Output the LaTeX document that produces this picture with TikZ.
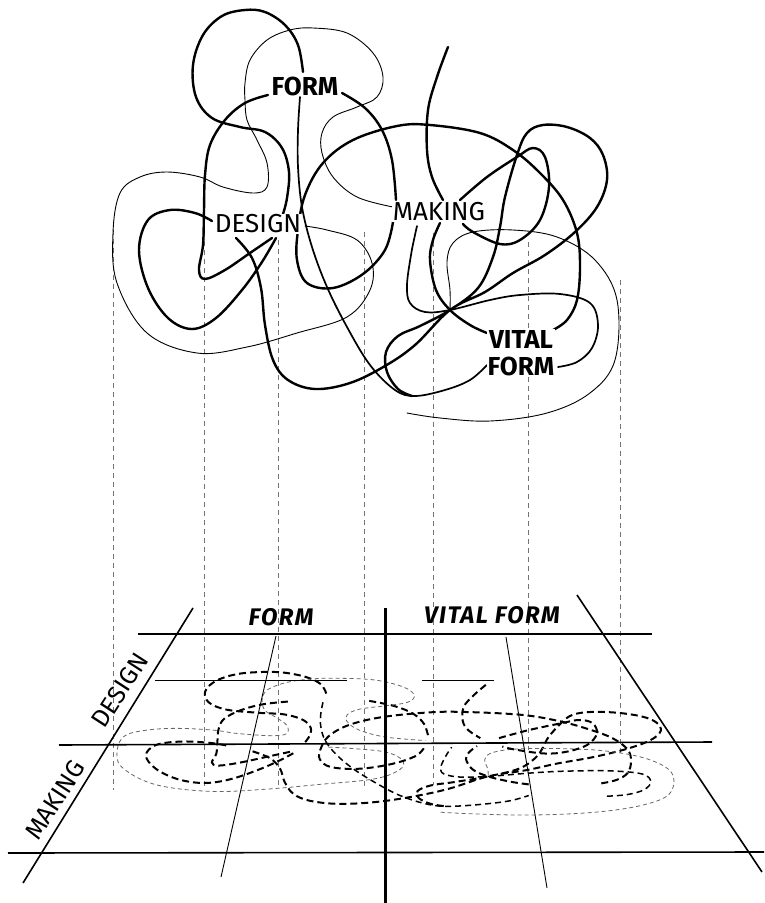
\documentclass[tikz,border=0pt]{standalone}
\usepackage{fontspec}
\setmainfont{Fira Sans}

% the tangle of strands, drawn once on top and once flattened on the floor
\newcommand{\tangle}[3]{%
% left part
\draw[#1] plot[smooth,tension=0.6] coordinates {(303,72) (298,45) (285,25) (265,12) (245,10) (222,16) (203,35) (193,65) (196,97) (212,118) (240,127) (265,132) (282,148) (289,172) (287,198) (283,214)};
\draw[#1] plot[smooth,tension=0.6] coordinates {(268,95) (245,103) (225,120) (210,145) (205,175) (204,210) (203,245) (199,270) (205,279) (225,270) (250,253) (272,238)};
\draw[#1] plot[smooth,tension=0.6] coordinates {(212,221) (195,213) (170,210) (148,220) (139,250) (148,288) (168,318) (192,329) (216,318) (242,290) (262,262) (276,238)};
\draw[#1] plot[smooth,tension=0.6] coordinates {(342,93) (365,108) (382,130) (392,160) (396,200)};
\draw[#3] plot[smooth,tension=0.6] coordinates {(305,226) (327,230) (357,240) (372,263) (370,290) (347,317) (297,333) (247,347) (197,353) (147,333) (117,283) (113,233) (120,193) (140,177) (167,172) (200,177) (223,187) (253,193) (267,187) (267,163) (257,140) (247,120) (245,100) (245,83) (250,60) (267,40) (290,30) (313,28) (347,33) (373,53) (383,77) (377,97) (357,107) (333,117) (322,133) (322,153) (333,177) (357,197) (393,207)};
% long strand through the knot point
\draw[#1] plot[smooth,tension=0.6] coordinates {(236,238) (252,258) (261,288) (265,325) (273,360) (288,380) (315,389) (350,383) (385,366) (415,345) (450,310) (485,292) (513,273) (545,255) (575,232) (597,207) (607,180) (603,155) (590,138) (567,127) (543,125) (527,133) (517,155) (505,197) (500,227) (493,257) (478,288) (450,310) (420,326) (398,336) (386,352) (387,372) (398,389) (412,396)};
\draw[#1] plot[smooth,tension=0.6] coordinates {(448,47) (437,77) (428,110) (427,150) (432,177) (443,200)};
\draw[#1] plot[smooth,tension=0.6] coordinates {(553,330) (567,320) (577,300) (580,267) (577,233) (563,200) (540,173) (513,150) (480,133) (430,125) (397,126) (353,140) (323,163) (305,195) (298,230) (297,260) (307,283) (333,288) (363,274) (385,250) (393,222)};
\draw[#2] plot[smooth,tension=0.6] coordinates {(300,97) (298,130) (298,167) (302,207) (312,247) (327,287) (347,327) (370,365) (395,390) (415,396) (445,390) (470,380) (487,365)};
% right part
\draw[#3] plot[smooth,tension=0.6] coordinates {(407,413) (440,418) (490,421) (547,413) (590,393) (615,360) (617,300) (595,260) (557,237) (513,230) (473,232) (453,243) (447,262) (450,290) (450,310)};
\draw[#2] plot[smooth,tension=0.6] coordinates {(558,367) (577,362) (592,348) (598,325) (590,303) (560,294) (520,295) (490,300) (450,310) (425,312) (410,303) (407,285) (411,255) (415,235) (417,226)};
\draw[#1] plot[smooth,tension=0.6] coordinates {(487,333) (470,325) (450,310) (436,290) (430,260) (433,240) (440,223)};
\draw[#1] plot[smooth,tension=0.6] coordinates {(460,200) (487,177) (517,157) (533,148) (545,157) (549,187) (540,220) (520,240) (500,244) (473,232) (463,224)};
}

\begin{document}
\begin{tikzpicture}[x=1pt,y=-1pt,
  thickline/.style={line width=2.4pt,line cap=round,line join=round},
  midline/.style={line width=1.7pt,line cap=round,line join=round},
  thinline/.style={line width=0.9pt,line cap=round},
  thickdash/.style={line width=2pt,dash pattern=on 7pt off 4pt},
  middash/.style={line width=1.5pt,dash pattern=on 6pt off 4pt},
  thindash/.style={line width=0.8pt,black!60,dash pattern=on 4pt off 3pt},
  guide/.style={line width=0.7pt,black!55,dash pattern=on 5pt off 4pt},
  word/.style={font=\fontsize{26}{26}\selectfont,fill=white,inner sep=1pt},
  boldword/.style={word,font=\fontsize{26}{26}\selectfont\bfseries},
  axisword/.style={font=\fontsize{24}{24}\selectfont\bfseries\itshape\addfontfeatures{LetterSpace=6}},
  sideword/.style={font=\fontsize{25}{25}\selectfont,rotate=57,inner sep=0pt},
  heavy/.style={line width=2.6pt},
  medium/.style={line width=1.6pt},
  light/.style={line width=0.9pt}]
\useasboundingbox (0,0) rectangle (764,903);

% dashed guides from the tangle down to the floor
\foreach \gx/\gtop/\gbot in {113/230/790, 204/232/790, 278/240/785, 364/232/790, 433/233/785, 528/242/750, 620/280/755}
  \draw[guide] (\gx,\gtop) -- (\gx,\gbot);

% tangle above
\tangle{thickline}{midline}{thinline}

% labels in the tangle
\node[boldword] (formtop) at (305,86) {FORM};
\node[word] (designtop) at (258,224) {DESIGN};
\node[word] (makingtop) at (439,212) {MAKING};
\node[boldword,align=center,font=\fontsize{26}{27}\selectfont\bfseries] (vitaltop) at (521,353) {VITAL\\FORM};

% flattened tangle on the floor
\begin{scope}[xshift=-7pt,yshift=-668.5pt,xscale=1.1,yscale=0.348]
\tangle{thickdash}{middash}{thindash}
\end{scope}

% floor grid
\draw[heavy] (138,634) -- (652,634);
\draw[light] (155,680) -- (347,680);
\draw[light] (422,680) -- (494,680);
\draw[medium] (59,745) -- (712,742);
\draw[medium] (8,853) -- (764,852);
\draw[line width=3pt] (385,608) -- (385,903);
\draw[medium] (193,608) -- (23,883);
\draw[light] (276,636) -- (221,877);
\draw[light] (506,637) -- (547,888);
\draw[medium] (577,595) -- (762,872);

% axis labels
\node[axisword] (formaxis) at (281,617) {FORM};
\node[axisword] (vitalaxis) at (492,615) {VITAL FORM};
\node[sideword] (designaxis) at (120,690) {DESIGN};
\node[sideword] (makingaxis) at (55,800) {MAKING};

\end{tikzpicture}
\end{document}
